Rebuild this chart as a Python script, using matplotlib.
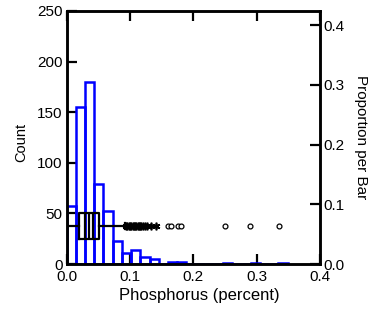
import matplotlib
matplotlib.use('Agg')
import matplotlib.pyplot as plt
import numpy as np

plt.rcParams['font.family'] = ['Liberation Sans', 'DejaVu Sans']

# histogram (bin width ~0.01453, 24 bins from 0)
bin_w = 0.01453
counts = [57, 155, 180, 79, 52, 23, 11, 14, 7, 5, 0, 2,
          2, 0, 0, 0, 0, 1, 0, 0, 1, 0, 0, 1]
n_total = sum(counts)

# box plot summary
q1, med, q3 = 0.0194, 0.0357, 0.0518
ci_lo, ci_hi = 0.0289, 0.0420
whis_lo, whis_hi = 0.0008, 0.092
far_vals = [0.094, 0.096, 0.098, 0.100, 0.102, 0.104, 0.106, 0.108, 0.110,
            0.112, 0.114, 0.116, 0.118, 0.121, 0.124, 0.127, 0.133, 0.141]
out_vals = [0.1605, 0.1647, 0.1760, 0.1797, 0.2496, 0.2896, 0.3354]
box_y = 37.5
box_h = 26.3

fig = plt.figure(figsize=(3.68, 3.11), dpi=100)
ax = fig.add_axes([0.181, 0.151, 0.689, 0.814])

edges = np.arange(len(counts)) * bin_w
ax.bar(edges, counts, width=bin_w, align='edge', fill=False,
       edgecolor='blue', linewidth=1.8, zorder=2)

stats = [dict(med=med, q1=q1, q3=q3, whislo=whis_lo, whishi=whis_hi, fliers=[])]
ax.bxp(stats, positions=[box_y], widths=[box_h], orientation='horizontal',
       capwidths=[6], manage_ticks=False,
       boxprops=dict(color='black', lw=1.6),
       medianprops=dict(color='black', lw=1.6),
       whiskerprops=dict(color='black', lw=1.6),
       capprops=dict(color='black', lw=1.6), zorder=3)
ax.vlines([ci_lo, ci_hi], box_y - box_h / 2, box_y + box_h / 2,
          colors='black', lw=1.6, zorder=3)
ax.plot(far_vals, [box_y] * len(far_vals), ls='none', marker=(6, 2, 0),
        ms=5.5, mew=1.2, color='black', zorder=4)
ax.plot(out_vals, [box_y] * len(out_vals), ls='none', marker='o', ms=3.5,
        mfc='white', mec='black', mew=0.9, zorder=4)

ax.set_xlim(0, 0.4)
ax.set_ylim(0, 250)
ax.set_xticks([0.0, 0.1, 0.2, 0.3, 0.4])
ax.set_xticklabels(['0.0', '0.1', '0.2', '0.3', '0.4'])
ax.set_yticks([0, 50, 100, 150, 200, 250])
ax.tick_params(direction='in', length=7, width=1.6, labelsize=11,
               top=True, right=False)
ax.tick_params(axis='x', pad=4)
ax.tick_params(axis='y', pad=3)
ax.set_xlabel('Phosphorus (percent)', fontsize=12, labelpad=1)
ax.xaxis.set_label_coords(0.522, -0.095)
ax.set_ylabel('Count', fontsize=10.5)
ax.yaxis.set_label_coords(-0.150, 0.48)

ax2 = ax.twinx()
ax2.set_ylim(0, 250 / n_total)
ax2.set_yticks([0.0, 0.1, 0.2, 0.3, 0.4])
ax2.tick_params(direction='in', length=7, width=1.6, labelsize=11, pad=2)
ax2.set_ylabel('Proportion per Bar', fontsize=11, rotation=270)
ax2.yaxis.set_label_coords(1.19, 0.5)

for a in (ax, ax2):
    for s in a.spines.values():
        s.set_linewidth(1.8)

fig.savefig('out.png', dpi=100)
